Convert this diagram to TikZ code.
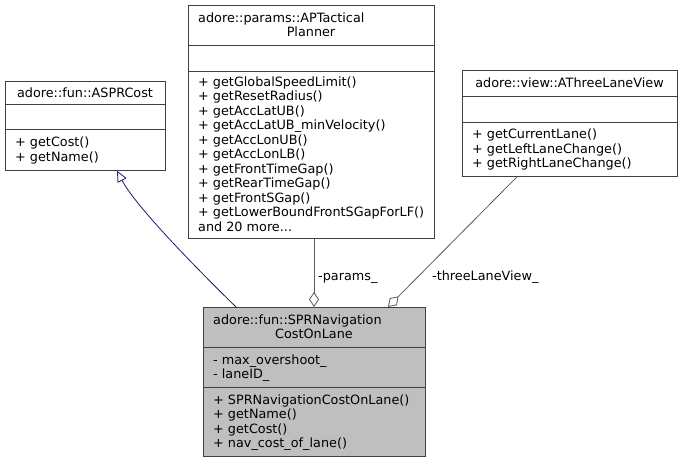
\documentclass[tikz,border=0pt]{standalone}
\usepackage{fontspec}
\setmainfont{DejaVu Sans}
\usetikzlibrary{arrows.meta,calc}

\definecolor{boxgray}{HTML}{404040}
\definecolor{edgegray}{HTML}{5A5A5A}
\definecolor{focusgray}{HTML}{BFBFBF}
\definecolor{navy}{HTML}{191970}

\newcommand{\lsp}{14.5}

\begin{document}
\begin{tikzpicture}[x=1pt,y=-1pt,
  classbox/.style={draw=boxgray, line width=0.8pt, inner sep=0pt, anchor=north west},
  sepline/.style={draw=boxgray, line width=0.8pt},
  member/.style={anchor=base west, inner sep=0pt, font=\fontsize{12.8}{14.5}\selectfont},
  title/.style={anchor=base, inner sep=0pt, font=\fontsize{12.8}{14.5}\selectfont},
  inherit/.style={draw=navy, line width=0.8pt, -{Triangle[open,length=11pt,width=10pt]}},
  aggr/.style={draw=edgegray, line width=0.8pt, -{Diamond[open,length=15pt,width=10pt]}}]

 \useasboundingbox (0,0) rectangle (682,463);

 % adore::fun::ASPRCost
 \node[classbox, minimum width=160pt, minimum height=89pt] (aspr) at (5,81) {};
 \draw[sepline] (5,104) -- (165,104);
 \draw[sepline] (5,129) -- (165,129);
 \node[title] (asprname) at (85,97) {adore::fun::ASPRCost};
 \foreach \m [count=\i] in {getCost(),getName()}
  \node[member] (asprop\i) at (15,{146.5+\lsp*(\i-1)}) {+ \m};

 % adore::params::APTacticalPlanner
 \node[classbox, minimum width=246pt, minimum height=233pt] (aptp) at (188,5) {};
 \draw[sepline] (188,45) -- (434,45);
 \draw[sepline] (188,71) -- (434,71);
 \node[member] (aptpname) at (198,22) {adore::params::APTactical};
 \node[title] (aptpname2) at (311,36.5) {Planner};
 \foreach \m [count=\i] in {getGlobalSpeedLimit(),getResetRadius(),getAccLatUB(),
   getAccLatUB\_minVelocity(),getAccLonUB(),getAccLonLB(),getFrontTimeGap(),
   getRearTimeGap(),getFrontSGap(),getLowerBoundFrontSGapForLF()}
  \node[member] (aptpop\i) at (198,{86.2+\lsp*(\i-1)}) {+ \m};
 \node[member] (aptpmore) at (198,{86.2+\lsp*10}) {and 20 more...};

 % adore::view::AThreeLaneView
 \node[classbox, minimum width=215pt, minimum height=106pt] (atlv) at (462,70) {};
 \draw[sepline] (462,96) -- (677,96);
 \draw[sepline] (462,122) -- (677,122);
 \node[title] (atlvname) at (569.5,87.2) {adore::view::AThreeLaneView};
 \foreach \m [count=\i] in {getCurrentLane(),getLeftLaneChange(),getRightLaneChange()}
  \node[member] (atlvop\i) at (472,{138.7+\lsp*(\i-1)}) {+ \m};

 % adore::fun::SPRNavigationCostOnLane
 \node[classbox, fill=focusgray, minimum width=222pt, minimum height=149pt] (spr) at (203,307) {};
 \draw[sepline] (203,347) -- (425,347);
 \draw[sepline] (203,387) -- (425,387);
 \node[member] (sprname) at (213,324) {adore::fun::SPRNavigation};
 \node[title] (sprname2) at (314,338.5) {CostOnLane};
 \foreach \m [count=\i] in {max\_overshoot\_,laneID\_}
  \node[member] (sprattr\i) at (213,{364+\lsp*(\i-1)}) {- \m};
 \foreach \m [count=\i] in {SPRNavigationCostOnLane(),getName(),getCost(),nav\_cost\_of\_lane()}
  \node[member] (sprop\i) at (213,{404+\lsp*(\i-1)}) {+ \m};

 % relations
 \draw[inherit] ($(spr.north west)+(33,0)$) .. controls (190,262) and (135,205) .. ($(aspr.south west)+(112,0)$);
 \draw[aggr] ($(aptp.south west)+(126,0)$) -- ($(spr.north west)+(111,0)$);
 \node[member] (lparams) at (318,280) {-params\_};
 \draw[aggr] ($(atlv.south west)+(55,0)$) -- ($(spr.north west)+(185,0)$);
 \node[member] (lview) at (432,280) {-threeLaneView\_};

\end{tikzpicture}
\end{document}
